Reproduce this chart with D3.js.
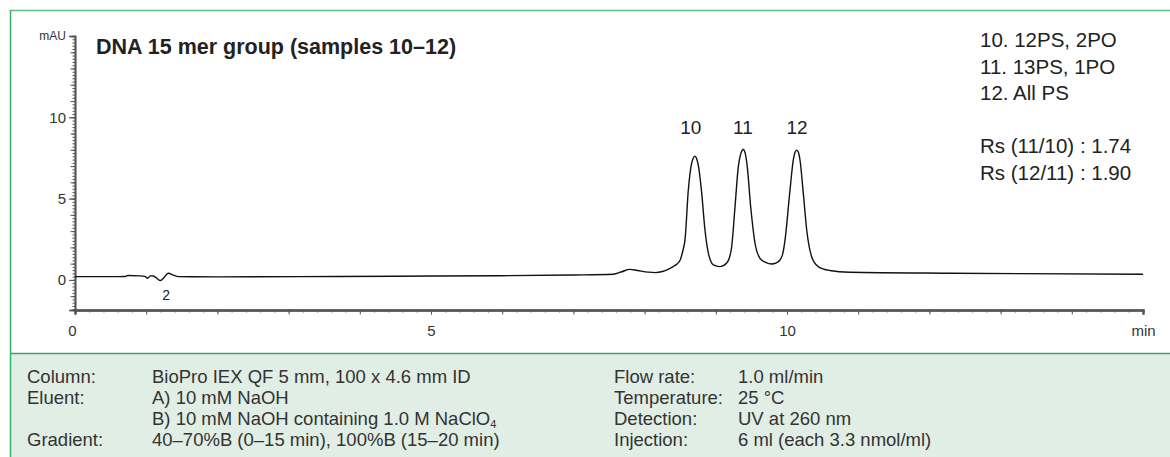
<!DOCTYPE html>
<html>
<head>
<meta charset="utf-8">
<script src="https://cdn.jsdelivr.net/npm/d3@7"></script>
<style>
  html, body { margin: 0; padding: 0; background: #fff; }
  svg { display: block; font-family: "Liberation Sans", Arial, sans-serif; }
</style>
</head>
<body>
<svg id="chart"></svg>
<script>
/* ============================
   DATA
============================ */
const traceTime = [
  0.0, 0.3, 0.6, 0.70, 0.74, 0.9, 0.98, 1.02, 1.06, 1.10, 1.15, 1.20, 1.25, 1.31, 1.38, 1.45,
  2.0, 3.16, 4.5, 5.97, 7.0, 7.56, 7.68, 7.79, 7.9, 8.05, 8.15, 8.25, 8.33, 8.40, 8.46, 8.50, 8.54,
  8.567, 8.614, 8.661, 8.685, 8.708, 8.731, 8.754, 8.802, 8.848, 8.895, 8.93, 8.965,
  9.059, 9.153, 9.19, 9.223, 9.270, 9.316, 9.35, 9.386, 9.415, 9.442, 9.490, 9.551, 9.621,
  9.70, 9.785, 9.85, 9.902, 9.94, 9.972, 10.042, 10.088, 10.113, 10.136, 10.16, 10.183,
  10.229, 10.277, 10.346, 10.439, 10.60, 10.88, 12.29, 15.0
];
const traceMau = [
  0.20, 0.20, 0.20, 0.21, 0.27, 0.25, 0.22, 0.10, 0.25, 0.24, 0.10, -0.04, 0.15, 0.41, 0.30, 0.20,
  0.19, 0.20, 0.23, 0.26, 0.30, 0.35, 0.50, 0.65, 0.58, 0.48, 0.45, 0.52, 0.65, 0.82, 1.00, 1.23, 1.84,
  2.45, 5.52, 7.18, 7.50, 7.61, 7.45, 7.06, 5.34, 3.07, 1.66, 1.15, 0.92,
  0.82, 1.04, 1.35, 2.04, 4.50, 6.95, 7.75, 8.02, 7.75, 6.95, 4.50, 2.25, 1.33,
  1.08, 0.98, 1.05, 1.23, 1.60, 2.45, 5.52, 7.36, 7.85, 7.98, 7.85, 7.36,
  5.32, 3.07, 1.43, 0.82, 0.58, 0.47, 0.41, 0.35
];

const peakNames = ["10", "11", "12", "2"];
const peakTimes = [8.65, 9.38, 10.14, 1.28];
const peakLabelMau = [9.0, 9.0, 9.0, -1.25];

const xTickValues = [0, 5, 10, 15];
const xTickLabels = ["0", "5", "10", "min"];
const yTickValues = [0, 5, 10, 15];
const yTickLabels = ["0", "5", "10", "mAU"];

const title = "DNA 15 mer group (samples 10–12)";
const sampleNotes = ["10. 12PS, 2PO", "11. 13PS, 1PO", "12. All PS", "", "Rs (11/10) : 1.74", "Rs (12/11) : 1.90"];

const condLabelsLeft = ["Column:", "Eluent:", "", "Gradient:"];
const condValuesLeft = [
  "BioPro IEX QF 5 mm, 100 x 4.6 mm ID",
  "A) 10 mM NaOH",
  "B) 10 mM NaOH containing 1.0 M NaClO|4",
  "40–70%B (0–15 min), 100%B (15–20 min)"
];
const condLabelsRight = ["Flow rate:", "Temperature:", "Detection:", "Injection:"];
const condValuesRight = ["1.0 ml/min", "25 °C", "UV at 260 nm", "6 ml (each 3.3 nmol/ml)"];

/* ============================
   SETUP
============================ */
const width = 1170;
const height = 457;
const svg = d3.select("#chart").attr("width", width).attr("height", height);

const x = d3.scaleLinear().domain([0, 15]).range([75, 1143]);
const y = d3.scaleLinear().domain([-1.85, 15]).range([310, 36]);

const axisColor = "#555";
const textColor = "#222";

/* frame + info panel */
svg.append("rect")
  .attr("x", 10).attr("y", 353)
  .attr("width", width - 10).attr("height", height - 353)
  .attr("fill", "#e1eee5");

svg.append("line")
  .attr("x1", 10).attr("x2", width)
  .attr("y1", 353.5).attr("y2", 353.5)
  .attr("stroke", "#3e9e6c").attr("stroke-width", 1.5);

svg.append("line")
  .attr("x1", 10).attr("x2", width)
  .attr("y1", 10.5).attr("y2", 10.5)
  .attr("stroke", "#62c08f").attr("stroke-width", 1.5);

svg.append("line")
  .attr("x1", 10.5).attr("x2", 10.5)
  .attr("y1", 10).attr("y2", height)
  .attr("stroke", "#34b26a").attr("stroke-width", 1.5);

/* ============================
   AXES
============================ */
// x minor ticks (0.2 min) and 1 min ticks
const gxMinor = svg.append("g")
  .attr("transform", `translate(0,${y(-1.85)})`)
  .call(d3.axisBottom(x).tickValues(d3.range(0, 15.001, 0.2)).tickSize(2.5).tickFormat(""));
const gxMid = svg.append("g")
  .attr("transform", `translate(0,${y(-1.85)})`)
  .call(d3.axisBottom(x).tickValues(d3.range(0, 16, 1)).tickSize(4.5).tickFormat(""));
const gx = svg.append("g")
  .attr("transform", `translate(0,${y(-1.85)})`)
  .call(d3.axisBottom(x).tickValues(xTickValues).tickSize(4.5)
    .tickFormat((d, i) => xTickLabels[i]).tickPadding(11));

[gxMinor, gxMid, gx].forEach(g => {
  g.select(".domain").attr("stroke", axisColor).attr("stroke-width", 2);
  g.selectAll(".tick line").attr("stroke", axisColor).attr("stroke-width", 1);
});
gx.selectAll("text")
  .attr("fill", "#333")
  .attr("font-size", 15)
  .attr("dx", d => (d === 0 ? -3 : 0));

// y axis
const gyMinor = svg.append("g")
  .attr("transform", `translate(${x(0)},0)`)
  .call(d3.axisLeft(y).tickValues(d3.range(-1.8, 15.001, 0.2)).tickSize(2.5).tickFormat(""));
const gyMid = svg.append("g")
  .attr("transform", `translate(${x(0)},0)`)
  .call(d3.axisLeft(y).tickValues(d3.range(-1, 16, 1)).tickSize(4.5).tickFormat(""));
const gy = svg.append("g")
  .attr("transform", `translate(${x(0)},0)`)
  .call(d3.axisLeft(y).tickValues(yTickValues).tickSize(6)
    .tickFormat((d, i) => yTickLabels[i]).tickPadding(3));

[gyMinor, gyMid, gy].forEach(g => {
  g.select(".domain").attr("stroke", axisColor).attr("stroke-width", 1.5);
  g.selectAll(".tick line").attr("stroke", axisColor).attr("stroke-width", 1);
});
gy.selectAll("text")
  .attr("fill", "#333")
  .attr("font-size", d => (d === 15 ? 12 : 15));

/* ============================
   TRACE
============================ */
const trace = traceTime.map((t, i) => ({ t, v: traceMau[i] }));

svg.append("path")
  .datum(trace)
  .attr("fill", "none")
  .attr("stroke", "#111")
  .attr("stroke-width", 1.4)
  .attr("stroke-linejoin", "round")
  .attr("d", d3.line().x(d => x(d.t)).y(d => y(d.v)).curve(d3.curveMonotoneX));

svg.append("g")
  .selectAll("text")
  .data(peakNames)
  .join("text")
  .attr("x", (d, i) => x(peakTimes[i]))
  .attr("y", (d, i) => y(peakLabelMau[i]))
  .attr("text-anchor", "middle")
  .attr("fill", textColor)
  .attr("font-size", (d, i) => (i === 3 ? 14 : 19))
  .text(d => d);

/* ============================
   TEXT
============================ */
svg.append("text")
  .attr("x", 96).attr("y", 54)
  .attr("font-size", 21.5)
  .attr("font-weight", "bold")
  .attr("fill", textColor)
  .text(title);

svg.append("g")
  .selectAll("text")
  .data(sampleNotes)
  .join("text")
  .attr("x", 980)
  .attr("y", (d, i) => 47 + i * 26.6)
  .attr("font-size", 20.5)
  .attr("fill", textColor)
  .text(d => d);

function condColumn(items, xPos) {
  const t = svg.append("g")
    .selectAll("text")
    .data(items)
    .join("text")
    .attr("x", xPos)
    .attr("y", (d, i) => 383 + i * 21)
    .attr("font-size", 18.5)
    .attr("fill", "#333");
  t.each(function (d) {
    const parts = d.split("|");
    const el = d3.select(this);
    el.append("tspan").text(parts[0]);
    if (parts[1]) {
      el.append("tspan").attr("font-size", 11).attr("dy", 3).text(parts[1]);
    }
  });
}
condColumn(condLabelsLeft, 27);
condColumn(condValuesLeft, 152);
condColumn(condLabelsRight, 614);
condColumn(condValuesRight, 738);
</script>
</body>
</html>
